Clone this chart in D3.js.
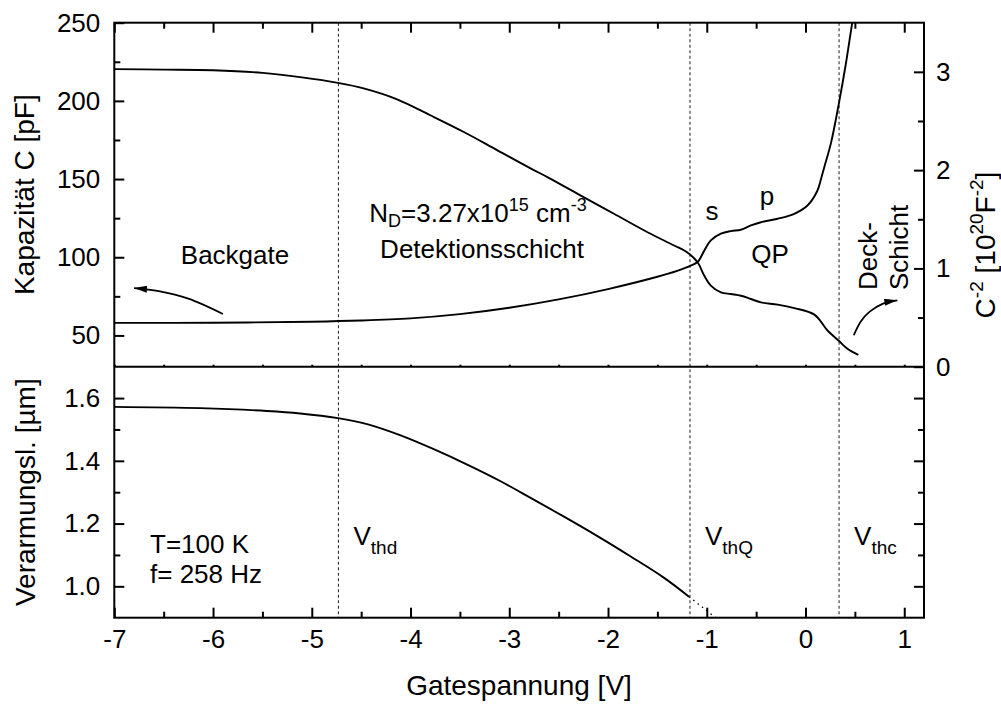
<!DOCTYPE html>
<html>
<head>
<meta charset="utf-8">
<script src="https://cdn.jsdelivr.net/npm/d3@7/dist/d3.min.js"></script>
<style>
  html, body { margin: 0; padding: 0; background: #fff; }
  svg { display: block; }
  text { font-family: "Liberation Sans", Arial, Helvetica, sans-serif; fill: #000; }
</style>
</head>
<body>
<svg id="chart" width="1001" height="704"></svg>
<script>
// Capacitance C(V) in pF
const gateC = [-7, -6.5, -6, -5.5, -5.1, -4.735, -4.475, -4.136, -3.8, -3.46, -3.12, -2.78, -2.6, -2.28, -1.94, -1.6, -1.33, -1.2, -1.093, -1.026, -0.959, -0.857, -0.756, -0.654, -0.553, -0.451, -0.282, -0.114, 0.09, 0.225, 0.337, 0.428, 0.535];
const capPF = [220.3, 220.0, 219.6, 217.9, 215.0, 211.5, 208.0, 201.0, 190.8, 180.1, 168.4, 156.7, 150.8, 139.6, 127.8, 116.0, 107.5, 103.2, 96.8, 88.3, 81.9, 77.6, 76.5, 75.4, 73.3, 71.1, 69.7, 67.5, 63.3, 53.0, 46.6, 41.3, 37.6];

// C^-2 in 10^20 F^-2
const gateInv = [-7, -6, -5, -4.5, -4.0, -3.5, -3.0, -2.5, -2.0, -1.5, -1.3, -1.18, -1.093, -1.026, -0.959, -0.857, -0.756, -0.654, -0.553, -0.451, -0.282, -0.114, 0.02, 0.12, 0.157, 0.19, 0.259, 0.34, 0.41, 0.47, 0.52];
const invC2 = [0.446, 0.447, 0.458, 0.47, 0.492, 0.535, 0.60, 0.685, 0.79, 0.915, 0.975, 1.02, 1.065, 1.18, 1.285, 1.353, 1.38, 1.393, 1.437, 1.47, 1.505, 1.556, 1.64, 1.79, 1.91, 2.03, 2.28, 2.69, 3.09, 3.48, 3.8];

// Depletion width in µm
const gateW = [-7, -6.13, -5.455, -5.117, -4.735, -4.44, -4.10, -3.765, -3.426, -3.088, -2.784, -2.446, -2.107, -1.77, -1.432, -1.18];
const deplUm = [1.572, 1.568, 1.559, 1.551, 1.536, 1.517, 1.481, 1.437, 1.388, 1.335, 1.282, 1.222, 1.16, 1.095, 1.027, 0.967];
// extrapolated continuation (dotted)
const gateWExt = [-1.18, -0.85];
const deplExt = [0.967, 0.885];

// threshold voltages
const thresholdV = [-4.73, -1.17, 0.34];
const thresholdSub = ["thd", "thQ", "thc"];

// tick values
const xMajor = [-7, -6, -5, -4, -3, -2, -1, 0, 1];
const xMinor = [-6.5, -5.5, -4.5, -3.5, -2.5, -1.5, -0.5, 0.5];
const capMajor = [50, 100, 150, 200, 250];
const capMinor = [75, 125, 175, 225];
const invMajor = [0, 1, 2, 3];
const invMinor = [0.5, 1.5, 2.5];
const wMajor = [1.0, 1.2, 1.4, 1.6];
const wMinor = [1.1, 1.3, 1.5];

// annotation arrows
const backArrowV = [-5.9, -6.25, -6.55, -6.8];
const backArrowC = [63.7, 73.5, 78.3, 80.3];
const deckArrowV = [0.489, 0.56, 0.65, 0.78, 0.93];
const deckArrowR = [0.32, 0.46, 0.56, 0.64, 0.675];

const svg = d3.select("#chart");
const L = 114.3, R = 924, T = 22.7, MID = 366.7, B = 617.7;
const FS = 26, TITLE = 28;

const x = d3.scaleLinear().domain([-7, 1.2]).range([L, R]);
const yC = d3.scaleLinear().domain([30, 250]).range([MID, T]);
const yInv = d3.scaleLinear().domain([0, 3.5]).range([MID, T]);
const yW = d3.scaleLinear().domain([0.9, 1.7]).range([B, MID]);

const defs = svg.append("defs");
defs.append("clipPath").attr("id", "clipTop").append("rect")
  .attr("x", L).attr("y", T).attr("width", R - L).attr("height", MID - T);
defs.append("clipPath").attr("id", "clipBot").append("rect")
  .attr("x", L).attr("y", MID).attr("width", R - L).attr("height", B - MID);
defs.append("marker").attr("id", "head")
  .attr("markerUnits", "userSpaceOnUse")
  .attr("markerWidth", 16).attr("markerHeight", 10)
  .attr("refX", 13).attr("refY", 3.5).attr("orient", "auto")
  .append("path").attr("d", "M0,0 L13,3.5 L0,7 Z").attr("fill", "#000");

// axis helper: draw ticks only (frame is drawn separately)
function ticks(axisFn, scale, vals, size, tx, ty, labels, fmt) {
  const a = axisFn(scale).tickValues(vals).tickSizeInner(-size).tickSizeOuter(0)
    .tickPadding(labels ? 12 : 0)
    .tickFormat(labels ? fmt : () => "");
  const g = svg.append("g").attr("transform", `translate(${tx},${ty})`).call(a);
  g.select(".domain").remove();
  g.selectAll(".tick line").attr("stroke", "#000").attr("stroke-width", 2);
  g.selectAll(".tick text").attr("font-size", FS).style("font-family", '"Liberation Sans", Arial, sans-serif');
  return g;
}
const fmtInt = d => String(d);
const fmt1 = d => d.toFixed(1);

// x ticks: top of upper panel, separator, bottom of lower panel
ticks(d3.axisTop, x, xMajor, 10, 0, T, false);
ticks(d3.axisTop, x, xMinor, 6, 0, T, false);
ticks(d3.axisBottom, x, xMajor.concat(xMinor), 2, 0, MID, false);
ticks(d3.axisBottom, x, xMajor, 10, 0, B, true, fmtInt);
ticks(d3.axisBottom, x, xMinor, 6, 0, B, false);

// left axis of upper panel
ticks(d3.axisLeft, yC, capMajor, 10, L, 0, true, fmtInt).selectAll(".tick text").attr("dx", -2);
ticks(d3.axisLeft, yC, capMinor, 6, L, 0, false);
// right axis of upper panel
ticks(d3.axisRight, yInv, invMajor, 10, R, 0, true, fmtInt);
ticks(d3.axisRight, yInv, invMinor, 6, R, 0, false);
// lower panel left/right
ticks(d3.axisLeft, yW, wMajor, 10, L, 0, true, fmt1).selectAll(".tick text").attr("dx", -2);
ticks(d3.axisLeft, yW, wMinor, 6, L, 0, false);
ticks(d3.axisRight, yW, wMajor, 10, R, 0, false);
ticks(d3.axisRight, yW, wMinor, 6, R, 0, false);

// threshold lines
svg.append("g").selectAll("line").data(thresholdV).join("line")
  .attr("x1", d => x(d)).attr("x2", d => x(d))
  .attr("y1", T).attr("y2", B)
  .attr("stroke", "#333").attr("stroke-width", 1.1).attr("stroke-dasharray", "3,2.5");

// curves
const lineC = d3.line().x(d => x(d[0])).y(d => yC(d[1])).curve(d3.curveCatmullRom.alpha(0.5));
const lineInv = d3.line().x(d => x(d[0])).y(d => yInv(d[1])).curve(d3.curveCatmullRom.alpha(0.5));
const lineW = d3.line().x(d => x(d[0])).y(d => yW(d[1])).curve(d3.curveCatmullRom.alpha(0.5));

const gTop = svg.append("g").attr("clip-path", "url(#clipTop)");
gTop.append("path").attr("d", lineC(d3.zip(gateC, capPF)))
  .attr("fill", "none").attr("stroke", "#000").attr("stroke-width", 1.9);
gTop.append("path").attr("d", lineInv(d3.zip(gateInv, invC2)))
  .attr("fill", "none").attr("stroke", "#000").attr("stroke-width", 1.9);

const gBot = svg.append("g").attr("clip-path", "url(#clipBot)");
gBot.append("path").attr("d", lineW(d3.zip(gateW, deplUm)))
  .attr("fill", "none").attr("stroke", "#000").attr("stroke-width", 1.9);
gBot.append("path").attr("d", d3.line().x(d => x(d[0])).y(d => yW(d[1]))(d3.zip(gateWExt, deplExt)))
  .attr("fill", "none").attr("stroke", "#000").attr("stroke-width", 1.3).attr("stroke-dasharray", "1.5,4");

// arrows
svg.append("path").attr("d", lineC(d3.zip(backArrowV, backArrowC)))
  .attr("fill", "none").attr("stroke", "#000").attr("stroke-width", 1.8).attr("marker-end", "url(#head)");
svg.append("path").attr("d", lineInv(d3.zip(deckArrowV, deckArrowR)))
  .attr("fill", "none").attr("stroke", "#000").attr("stroke-width", 1.8).attr("marker-end", "url(#head)");

// frames
svg.append("rect").attr("x", L).attr("y", T).attr("width", R - L).attr("height", B - T)
  .attr("fill", "none").attr("stroke", "#000").attr("stroke-width", 2);
svg.append("line").attr("x1", L).attr("x2", R).attr("y1", MID).attr("y2", MID)
  .attr("stroke", "#000").attr("stroke-width", 2);

// text helpers
function txt(xp, yp, s, anchor = "start", size = FS) {
  return svg.append("text").attr("x", xp).attr("y", yp).attr("font-size", size)
    .attr("text-anchor", anchor).text(s);
}
const SUB = 18;

// axis titles
txt(519, 695, "Gatespannung [V]", "middle", TITLE);
svg.append("text").attr("transform", `translate(34,${(T + MID) / 2}) rotate(-90)`)
  .attr("font-size", TITLE).attr("text-anchor", "middle").text("Kapazität C [pF]");
svg.append("text").attr("transform", `translate(35,${(MID + B) / 2}) rotate(-90)`)
  .attr("font-size", TITLE).attr("text-anchor", "middle").text("Verarmungsl. [µm]");
{
  const t = svg.append("text").attr("transform", `translate(995,245) rotate(-90)`)
    .attr("font-size", TITLE).attr("text-anchor", "middle");
  t.append("tspan").text("C");
  t.append("tspan").attr("font-size", SUB + 1).attr("dy", -12).text("-2");
  t.append("tspan").attr("dy", 12).text(" [10");
  t.append("tspan").attr("font-size", SUB + 1).attr("dy", -12).text("20");
  t.append("tspan").attr("dy", 12).text("F");
  t.append("tspan").attr("font-size", SUB + 1).attr("dy", -12).text("-2");
  t.append("tspan").attr("dy", 12).text("]");
}

// annotations
txt(235, 264, "Backgate", "middle");
{
  const t = svg.append("text").attr("x", 478).attr("y", 222).attr("font-size", FS).attr("text-anchor", "middle");
  t.append("tspan").text("N");
  t.append("tspan").attr("font-size", SUB).attr("dy", 5).text("D");
  t.append("tspan").attr("dy", -5).text("=3.27x10");
  t.append("tspan").attr("font-size", SUB).attr("dy", -11).text("15");
  t.append("tspan").attr("dy", 11).text(" cm");
  t.append("tspan").attr("font-size", SUB).attr("dy", -11).text("-3");
}
txt(482, 258, "Detektionsschicht", "middle");
txt(712, 220, "s", "middle");
txt(767, 205, "p", "middle");
txt(770, 263, "QP", "middle");
svg.append("text").attr("transform", "translate(877,290) rotate(-90)").attr("font-size", FS).text("Deck-");
svg.append("text").attr("transform", "translate(908,290) rotate(-90)").attr("font-size", FS).text("Schicht");
txt(150, 553, "T=100 K");
txt(150, 583, "f= 258 Hz");

// threshold labels
thresholdV.forEach((v, i) => {
  const t = svg.append("text").attr("x", x(v) + 15).attr("y", 545).attr("font-size", FS);
  t.append("tspan").text("V");
  t.append("tspan").attr("font-size", SUB + 1).attr("dy", 9).text(thresholdSub[i]);
});
</script>
</body>
</html>
